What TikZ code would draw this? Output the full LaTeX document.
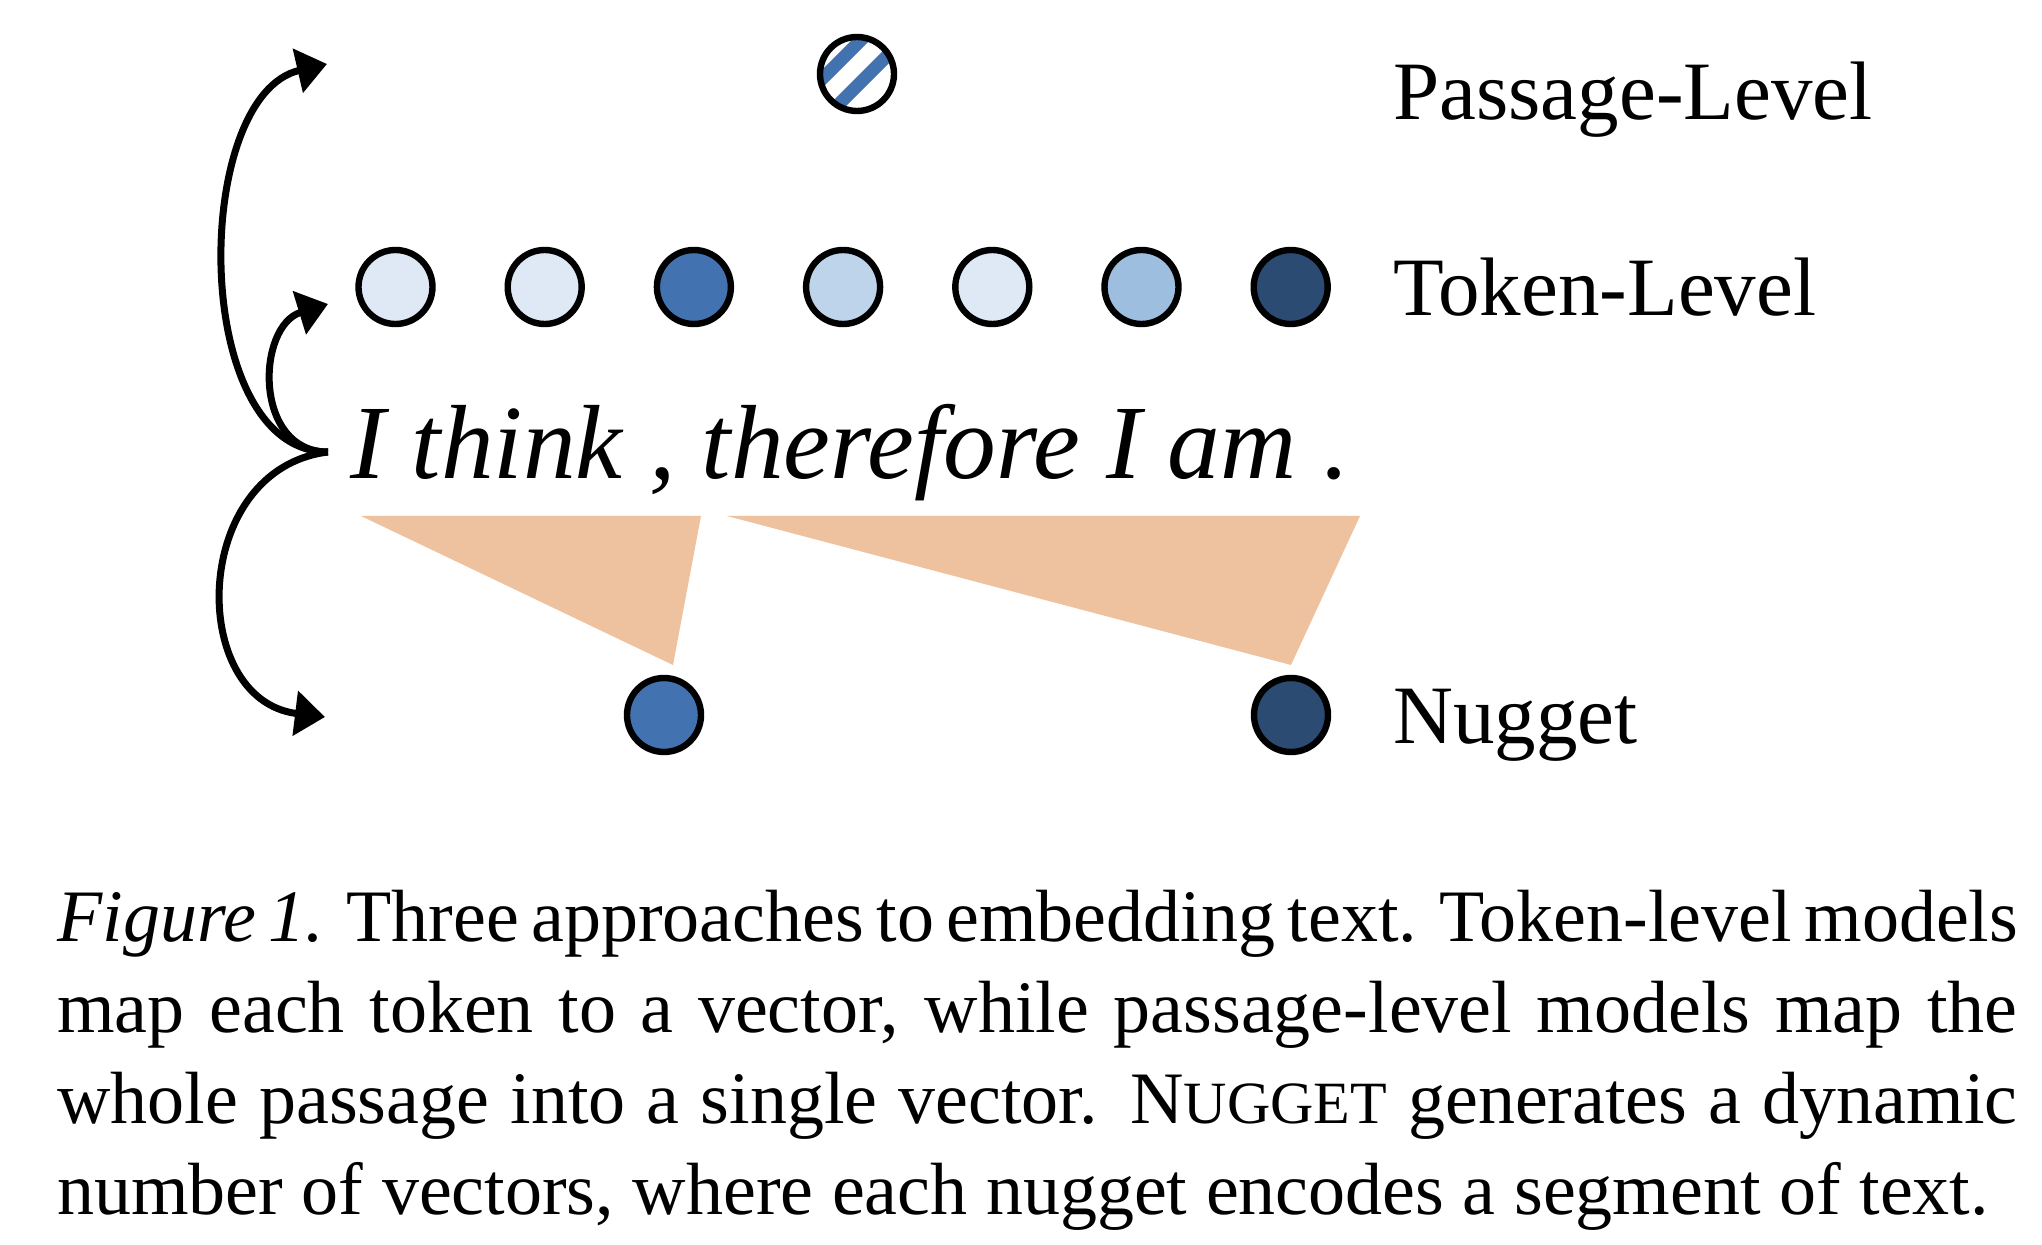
\documentclass[tikz,border=0pt]{standalone}
\usepackage{fontspec}
\setmainfont{Liberation Serif}
\usepackage{xcolor}
\usetikzlibrary{arrows.meta, positioning}

\definecolor{tokpale}{HTML}{DEE9F5}
\definecolor{toklight}{HTML}{BED4EA}
\definecolor{tokmid}{HTML}{9EBEE0}
\definecolor{tokblue}{HTML}{4272B0}
\definecolor{tokdark}{HTML}{2B4B73}
\definecolor{spanfill}{HTML}{EEC19F}

\newcommand{\nuggetsc}{N{\fontsize{30}{30}\selectfont UGGET}}
\newcommand{\capline}[2][980pt]{\makebox[#1][s]{#2}}

\begin{document}
\begin{tikzpicture}[
    x=0.5pt, y=0.5pt,
    node distance=34.4pt,
    vec/.style={circle, draw, line width=3.2pt, minimum size=37pt, inner sep=0pt},
    hatched/.style={vec, fill=white, path picture={
        \draw[tokblue, line width=6.5pt, shift={(path picture bounding box.center)}]
            (-65,-35) -- (35,65) (-44,-56) -- (56,44);}},
    levellabel/.style={anchor=base west, inner sep=0pt, font=\fontsize{41.5}{48}\selectfont},
    arrow/.style={-{Triangle[length=15pt, width=22pt]}, line width=3.5pt},
    span/.style={fill=spanfill}
]
\useasboundingbox (0,0) rectangle (2042,1244);

% Passage-level vector
\node[hatched] (passage) at (857,1170) {};

% Token-level vectors
\node[vec, fill=tokpale] (tok1) at (395.5,957) {};
\node[vec, fill=tokpale, right=of tok1] (tok2) {};
\node[vec, fill=tokblue, right=of tok2] (tok3) {};
\node[vec, fill=toklight, right=of tok3] (tok4) {};
\node[vec, fill=tokpale, right=of tok4] (tok5) {};
\node[vec, fill=tokmid, right=of tok5] (tok6) {};
\node[vec, fill=tokdark, right=of tok6] (tok7) {};

% Sentence
\node[anchor=base west, inner sep=0pt, font=\fontsize{52.7}{60}\selectfont\itshape] (sent) at (350,765) {I think , therefore I am .};

% Segments
\fill[span] (361,728) -- (701,728) -- (673,579) -- cycle;
\fill[span] (727,728) -- (1360,728) -- (1291,579) -- cycle;

% Nuggets
\node[vec, fill=tokblue] (nug1) at (664,529) {};
\node[vec, fill=tokdark] (nug2) at (1291,529) {};

% Labels
\node[levellabel] (lpassage) at (1393,1124) {Passage-Level};
\node[levellabel] (ltoken) at (1393,928) {Token-Level};
\node[levellabel] (lnugget) at (1393,500) {Nugget};

% Arrows
\coordinate (src) at (328,792);
\coordinate (endpassage) at (327,1180);
\coordinate (endtoken) at (328,940);
\coordinate (endnugget) at (325,527);
\draw[arrow] (src) .. controls +(180:139) and +(193:139) .. (endpassage);
\draw[arrow] (src) .. controls +(180:75) and +(197:75) .. (endtoken);
\draw[arrow] (src) .. controls +(187:139) and +(173:139) .. (endnugget);

% Caption
\node[anchor=base west, inner sep=0pt, text width=980pt, align=left, font=\fontsize{37}{45.5}\selectfont] (caption) at (57,302)
  {\spaceskip=0pt \xspaceskip=0pt
   \capline{\textit{Figure 1.} Three approaches to embedding text. Token-level models}\\
   \capline{map each token to a vector, while passage-level models map the}\\
   \capline{whole passage into a single vector. \nuggetsc{} generates a dynamic}\\
   number of vectors, where each nugget encodes a segment of text.};

\end{tikzpicture}
\end{document}
